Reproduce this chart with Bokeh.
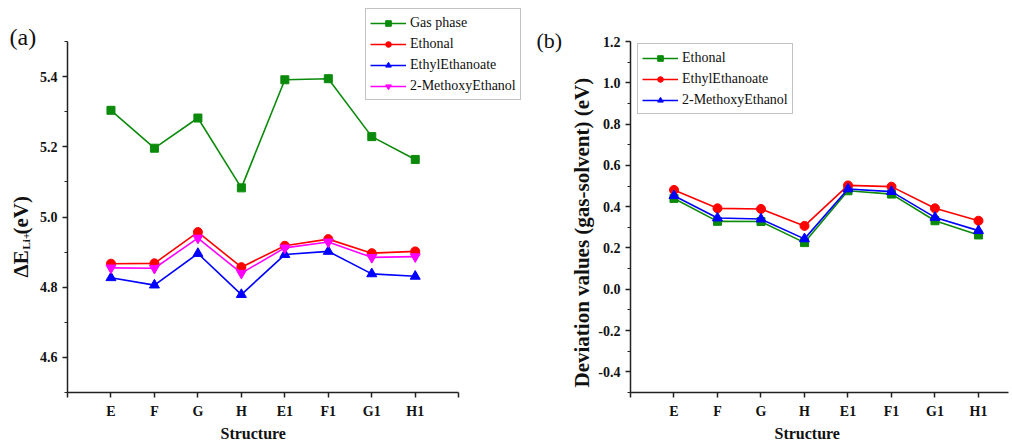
import math
from bokeh.plotting import figure
from bokeh.models import FixedTicker, Label, Legend, LegendItem, Range1d, PrintfTickFormatter, Title
from bokeh.layouts import row
from bokeh.embed import file_html
from bokeh.resources import INLINE

# ---------------- data ----------------
structures = ["E", "F", "G", "H", "E1", "F1", "G1", "H1"]
xpos = [1, 2, 3, 4, 5, 6, 7, 8]

# panel (a): Delta E_Li+ (eV)
gas_phase = [5.304, 5.196, 5.282, 5.083, 5.391, 5.394, 5.229, 5.164]
ethonal = [4.867, 4.868, 4.957, 4.857, 4.918, 4.937, 4.897, 4.902]
ethyl_ethanoate = [4.827, 4.806, 4.896, 4.779, 4.893, 4.902, 4.838, 4.831]
methoxy_ethanol = [4.855, 4.854, 4.940, 4.840, 4.912, 4.929, 4.885, 4.887]

# panel (b): deviation values (gas - solvent) (eV)
dev_ethonal = [0.440, 0.329, 0.328, 0.226, 0.477, 0.461, 0.332, 0.263]
dev_ethyl = [0.481, 0.392, 0.389, 0.307, 0.503, 0.497, 0.392, 0.332]
dev_methoxy = [0.453, 0.345, 0.340, 0.244, 0.486, 0.473, 0.348, 0.284]

a_yticks = [4.6, 4.8, 5.0, 5.2, 5.4]
a_yminor = [4.5, 4.7, 4.9, 5.1, 5.3, 5.5]
b_yticks = [-0.4, -0.2, 0.0, 0.2, 0.4, 0.6, 0.8, 1.0, 1.2]
b_yminor = [-0.5, -0.3, -0.1, 0.1, 0.3, 0.5, 0.7, 0.9, 1.1]

GREEN = "#0b8a0b"
RED = "#ff0000"
BLUE = "#0000ff"
MAGENTA = "#ff00ff"
FONT = "Liberation Serif"
INK = "#111111"

TOP, BOTTOM, H = 5, 53, 445


def style(p, xticks, yticks, yminor):
    p.xgrid.visible = False
    p.ygrid.visible = False
    p.outline_line_color = None
    p.background_fill_color = "white"
    p.border_fill_color = "white"
    for ax in (p.xaxis[0], p.yaxis[0]):
        ax.axis_line_color = "#222222"
        ax.axis_line_width = 1.5
        ax.major_tick_line_color = "#222222"
        ax.major_tick_line_width = 1.5
        ax.minor_tick_line_color = "#222222"
        ax.minor_tick_line_width = 1.2
        ax.major_tick_in = 0
        ax.major_tick_out = 5
        ax.minor_tick_in = 0
        ax.minor_tick_out = 3
        ax.major_label_text_font = FONT
        ax.major_label_text_font_style = "bold"
        ax.major_label_text_font_size = "14px"
        ax.major_label_text_color = INK
        ax.axis_label = None
    p.xaxis[0].ticker = FixedTicker(ticks=xticks, minor_ticks=[])
    overrides = {t: "" for t in xticks}
    for x, s in zip(xpos, structures):
        overrides[x] = s
    p.xaxis[0].major_label_overrides = overrides
    p.xaxis[0].major_label_standoff = 6
    p.yaxis[0].ticker = FixedTicker(ticks=yticks, minor_ticks=yminor)
    p.yaxis[0].formatter = PrintfTickFormatter(format="%.1f")
    p.yaxis[0].major_label_standoff = 5


def title(p, text, place, offset, size, standoff):
    p.add_layout(Title(text=text, align="left", offset=offset, standoff=standoff,
                       text_font=FONT, text_font_style="bold", text_font_size=size,
                       text_color=INK), place)


def series(p, x, y, color, marker, size, label):
    r1 = p.line(x, y, line_color=color, line_width=1.6)
    r2 = p.scatter(x, y, marker=marker, size=size, fill_color=color, line_color=color)
    return LegendItem(label=label, renderers=[r1, r2])


def make_legend(p, items, loc):
    lg = Legend(items=items, location=loc)
    lg.label_text_font = FONT
    lg.label_text_font_size = "14px"
    lg.label_text_color = INK
    lg.glyph_width = 36
    lg.glyph_height = 14
    lg.label_standoff = 4
    lg.label_height = 19
    lg.spacing = 2
    lg.padding = 4
    lg.margin = 0
    lg.border_line_color = "#888888"
    lg.border_line_width = 1
    lg.background_fill_color = "white"
    lg.background_fill_alpha = 1.0
    p.add_layout(lg)


# ---------------- left strip: "(a)" and the y label of panel (a) ----------------
strip = figure(width=36, height=H, x_range=Range1d(0, 36), y_range=Range1d(0, 387),
               output_backend="svg", toolbar_location=None,
               min_border_left=0, min_border_right=0, min_border_top=TOP, min_border_bottom=BOTTOM)
strip.axis.visible = False
strip.xgrid.visible = False
strip.ygrid.visible = False
strip.outline_line_color = None
strip.add_layout(Label(x=9, y=369, x_units="screen", y_units="screen", text="(a)",
                       text_font=FONT, text_font_size="24px", text_align="left",
                       text_baseline="top", text_color=INK))
for txt, x, y, fs in [("ΔE", 20.5, 115, "21px"), ("Li+", 25.5, 143, "11px"), ("(eV)", 20.5, 158, "21px")]:
    strip.add_layout(Label(x=x, y=y, x_units="screen", y_units="screen", text=txt, angle=math.pi / 2,
                           text_font=FONT, text_font_style="bold", text_font_size=fs,
                           text_align="left", text_baseline="middle", text_color=INK))

# ---------------- panel (a) ----------------
pa = figure(width=528, height=H, x_range=Range1d(0, 11.434), y_range=Range1d(4.5, 5.6026),
            output_backend="svg", toolbar_location=None,
            min_border_left=30, min_border_right=0, min_border_top=TOP, min_border_bottom=BOTTOM)
style(pa, list(range(0, 10)), a_yticks, a_yminor)
pa.xaxis[0].bounds = (0, 9)
pa.yaxis[0].bounds = (4.5, 5.5)
title(pa, "Structure", "below", 153, "16px", 2)

items_a = [
    series(pa, xpos, gas_phase, GREEN, "square", 8, "Gas phase"),
    series(pa, xpos, ethonal, RED, "circle", 9, "Ethonal"),
    series(pa, xpos, ethyl_ethanoate, BLUE, "triangle", 10, "EthylEthanoate"),
    series(pa, xpos, methoxy_ethanol, MAGENTA, "inverted_triangle", 10, "2-MethoxyEthanol"),
]
make_legend(pa, items_a, (298, 292))

pa.add_layout(Label(x=469, y=365, x_units="screen", y_units="screen", text="(b)",
                    text_font=FONT, text_font_size="22px", text_align="left",
                    text_baseline="top", text_color=INK))

# ---------------- panel (b) ----------------
pb = figure(width=446, height=H, x_range=Range1d(0, 8.69), y_range=Range1d(-0.5, 1.3744),
            output_backend="svg", toolbar_location=None,
            min_border_left=66, min_border_right=2, min_border_top=TOP, min_border_bottom=BOTTOM)
style(pb, list(range(0, 9)), b_yticks, b_yminor)
pb.yaxis[0].bounds = (-0.5, 1.2)
title(pb, "Structure", "below", 144, "16px", 2)
title(pb, "Deviation values (gas-solvent) (eV)", "left", 5, "21px", 4)

items_b = [
    series(pb, xpos, dev_ethonal, GREEN, "square", 8, "Ethonal"),
    series(pb, xpos, dev_ethyl, RED, "circle", 9, "EthylEthanoate"),
    series(pb, xpos, dev_methoxy, BLUE, "triangle", 10, "2-MethoxyEthanol"),
]
make_legend(pb, items_b, (7, 278))

layout = row(strip, pa, pb)
open("out.html", "w").write(file_html(layout, INLINE))
